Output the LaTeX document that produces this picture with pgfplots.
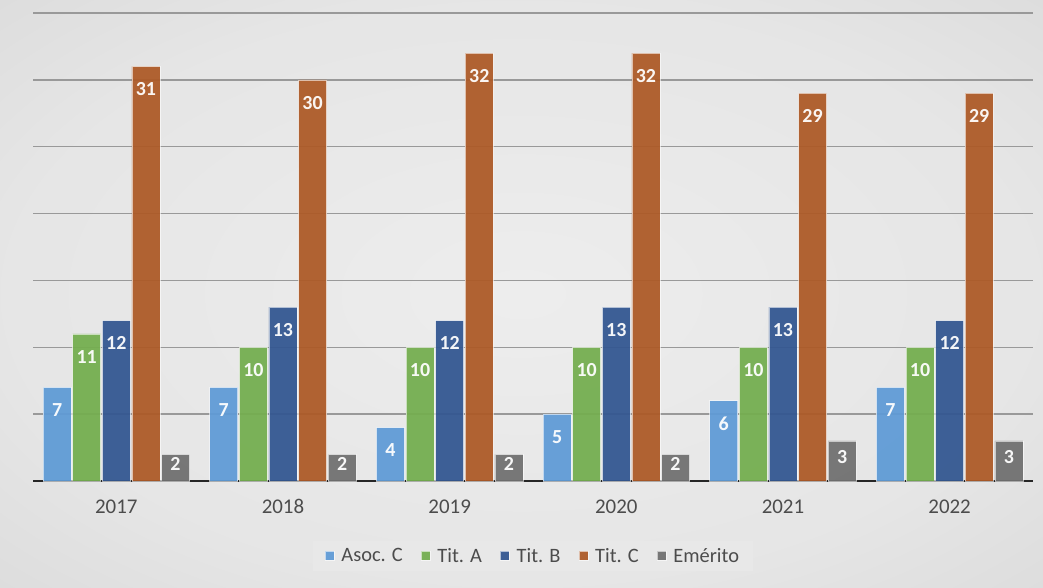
\documentclass[border=0pt]{standalone}
\usepackage{fontspec}
\setmainfont{Carlito}
\usepackage{pgfplots}
\pgfplotsset{compat=1.18}

\definecolor{asoc}{HTML}{5F9BD6}
\definecolor{tita}{HTML}{74AE4F}
\definecolor{titb}{HTML}{335791}
\definecolor{titc}{HTML}{AD5A27}
\definecolor{emer}{HTML}{707070}

\pgfdeclareradialshading{bgshade}{\pgfpoint{0bp}{0bp}}{%
  color(0bp)=(black!7); color(25bp)=(black!10); color(50bp)=(black!18); color(71bp)=(black!26)}

\pgfplotsset{
  sqleg/.style={legend image code/.code={\fill[##1] (0bp,-4.5bp) rectangle (9bp,4.5bp); \path (14bp,0bp);}},
  bar/.style={draw=white, draw opacity=0.6, line width=0.6bp, fill opacity=0.94, sqleg},
}

\begin{document}
\begin{tikzpicture}
\shade[shading=bgshade] (0,0) rectangle (1043bp,588bp);
\begin{axis}[
  at={(33bp,107bp)}, anchor=south west,
  scale only axis, width=1000bp, height=468bp,
  xmin=-0.5, xmax=5.5, ymin=0, ymax=35,
  ybar=1.6bp, bar width=28bp,
  axis x line*=bottom, axis y line*=left,
  x axis line style={draw=black!85, line width=2.5bp},
  y axis line style={draw=none},
  xtick={0,...,5}, xticklabels={2017,2018,2019,2020,2021,2022},
  xtick style={draw=none},
  ytick={0,5,...,35}, yticklabels={}, ytick style={draw=none},
  ymajorgrids, major grid style={draw=black!40, line width=1.3bp},
  tick label style={font=\fontsize{21}{24}\selectfont, text=black!70},
  xticklabel style={yshift=-11bp, text height=14bp, text depth=0pt},
  /pgf/number format/assume math mode=true,
  nodes near coords,
  every node near coord/.append style={anchor=north, yshift=-16bp, inner sep=0pt,
    text=white, font=\fontsize{20}{23}\selectfont\bfseries},
  legend columns=5,
  legend style={at={(0.5,-0.16)}, anchor=center, fill=black!9, draw=none,
    font=\fontsize{20.5}{23}\selectfont, text=black!70, inner xsep=12bp, inner ysep=5bp,
    /tikz/every even column/.append style={column sep=16bp}},
]
\addplot[bar, fill=asoc] coordinates {(0,7) (1,7) (2,4) (3,5) (4,6) (5,7)};
\addplot[bar, fill=tita] coordinates {(0,11) (1,10) (2,10) (3,10) (4,10) (5,10)};
\addplot[bar, fill=titb] coordinates {(0,12) (1,13) (2,12) (3,13) (4,13) (5,12)};
\addplot[bar, fill=titc] coordinates {(0,31) (1,30) (2,32) (3,32) (4,29) (5,29)};
\addplot[bar, fill=emer, visualization depends on={rawy \as \rawy},
  every node near coord/.append style={anchor=center, yshift={(20-6.69*\rawy)*1bp}}]
  coordinates {(0,2) (1,2) (2,2) (3,2) (4,3) (5,3)};
\legend{Asoc. C, Tit. A, Tit. B, Tit. C, Emérito}
\end{axis}
\pgfresetboundingbox
\useasboundingbox (0,0) rectangle (1043bp,588bp);
\end{tikzpicture}
\end{document}
